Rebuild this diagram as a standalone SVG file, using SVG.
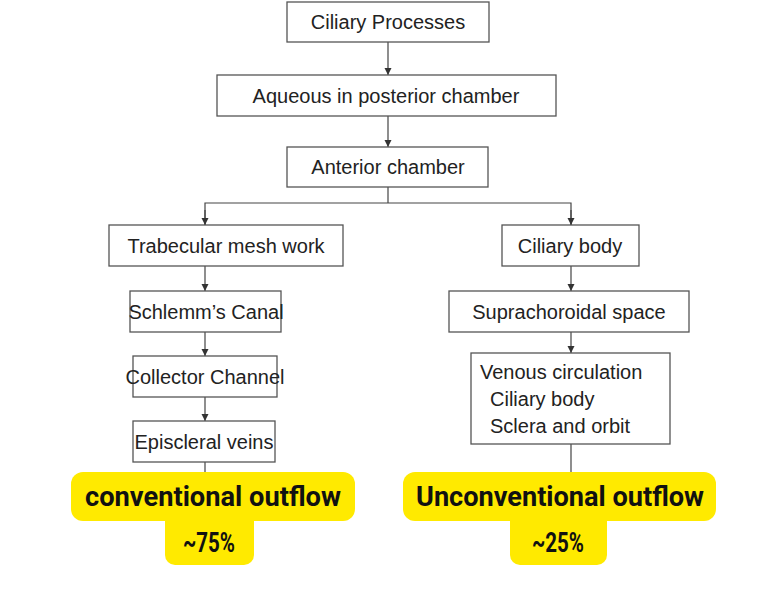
<svg xmlns="http://www.w3.org/2000/svg" width="765" height="604" viewBox="0 0 765 604">
<style>
.b{fill:#fff;stroke:#555;stroke-width:1.3}
.t{font-family:"Liberation Sans",Arial,sans-serif;font-size:20px;fill:#222}
.c{stroke:#444;stroke-width:1.2;fill:none}
.y{fill:#ffea00}
.h{font-family:Roboto,"Liberation Sans",sans-serif;font-weight:bold;font-size:27px;fill:#111}
</style>
<defs><marker id="a" viewBox="0 0 10 10" refX="10" refY="5" markerWidth="6" markerHeight="6" orient="auto"><path d="M0,0L10,5L0,10z" fill="#333"/></marker></defs>
<rect width="765" height="604" fill="#fff"/>
<g id="connectors">
<path class="c" d="M388,42V75" marker-end="url(#a)"/>
<path class="c" d="M388,116V147" marker-end="url(#a)"/>
<path class="c" d="M388,187V203"/>
<path class="c" d="M205,225V203H571V225" />
<path class="c" d="M205,210V225" marker-end="url(#a)"/>
<path class="c" d="M571,210V225" marker-end="url(#a)"/>
<path class="c" d="M205,266V291" marker-end="url(#a)"/>
<path class="c" d="M571,266V291" marker-end="url(#a)"/>
<path class="c" d="M205,332V356" marker-end="url(#a)"/>
<path class="c" d="M571,332V353" marker-end="url(#a)"/>
<path class="c" d="M205,397V421" marker-end="url(#a)"/>
<path class="c" d="M205,462V474"/>
<path class="c" d="M571,444V474"/>
</g>
<g id="n1"><rect class="b" x="287" y="2" width="202" height="40"/><text class="t" x="388" y="29" text-anchor="middle">Ciliary Processes</text></g>
<g id="n2"><rect class="b" x="217" y="75" width="339" height="41"/><text class="t" x="386" y="103" text-anchor="middle">Aqueous in posterior chamber</text></g>
<g id="n3"><rect class="b" x="287" y="147" width="201" height="40"/><text class="t" x="388" y="174" text-anchor="middle">Anterior chamber</text></g>
<g id="n4"><rect class="b" x="109" y="225" width="234" height="41"/><text class="t" x="226" y="253" text-anchor="middle">Trabecular mesh work</text></g>
<g id="n5"><rect class="b" x="502" y="225" width="137" height="41"/><text class="t" x="570" y="253" text-anchor="middle">Ciliary body</text></g>
<g id="n6"><rect class="b" x="130" y="291" width="151" height="41"/><text class="t" x="206" y="319" text-anchor="middle">Schlemm’s Canal</text></g>
<g id="n7"><rect class="b" x="449" y="291" width="240" height="41"/><text class="t" x="569" y="319" text-anchor="middle">Suprachoroidal space</text></g>
<g id="n8"><rect class="b" x="133" y="356" width="144" height="41"/><text class="t" x="205" y="384" text-anchor="middle">Collector Channel</text></g>
<g id="n9"><rect class="b" x="471" y="353" width="199" height="91"/><text class="t" x="480" y="379">Venous circulation</text><text class="t" x="490" y="406">Ciliary body</text><text class="t" x="490" y="433">Sclera and orbit</text></g>
<g id="n10"><rect class="b" x="133" y="421" width="142" height="41"/><text class="t" x="204" y="449" text-anchor="middle">Episcleral veins</text></g>
<g id="l1"><rect class="y" x="71" y="472" width="284" height="49" rx="12"/><rect class="y" x="165" y="505" width="89" height="60" rx="10"/><text class="h" x="213" y="506" text-anchor="middle" textLength="256" lengthAdjust="spacingAndGlyphs">conventional outflow</text><text class="h" x="209" y="552" text-anchor="middle" textLength="52" lengthAdjust="spacingAndGlyphs">~75%</text></g>
<g id="l2"><rect class="y" x="403" y="472" width="313" height="49" rx="12"/><rect class="y" x="510" y="505" width="97" height="60" rx="10"/><text class="h" x="560" y="506" text-anchor="middle" textLength="288" lengthAdjust="spacingAndGlyphs">Unconventional outflow</text><text class="h" x="558" y="552" text-anchor="middle" textLength="52" lengthAdjust="spacingAndGlyphs">~25%</text></g>
</svg>
